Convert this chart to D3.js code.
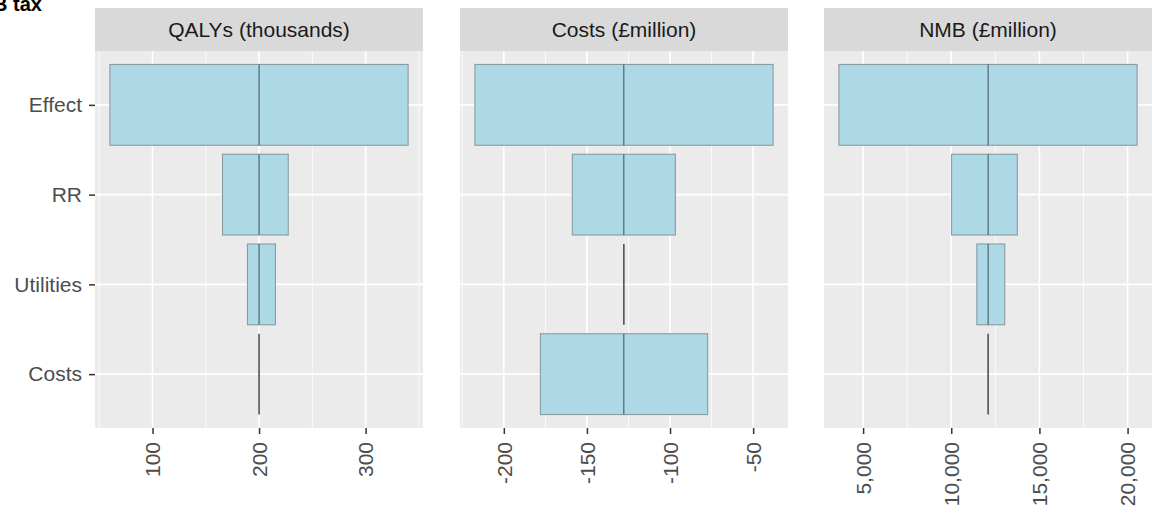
<!DOCTYPE html>
<html>
<head>
<meta charset="utf-8">
<script src="https://cdn.jsdelivr.net/npm/d3@7"></script>
<style>
html,body{margin:0;padding:0;background:#fff;}
svg{display:block;font-family:"Liberation Sans",Arial,Helvetica,sans-serif;}
</style>
</head>
<body>
<svg id="chart" width="1152" height="513"></svg>
<script>
// ---- data ----
const categories = ["Effect", "RR", "Utilities", "Costs"];
const panelTitles = ["QALYs (thousands)", "Costs (£million)", "NMB (£million)"];
const baseValues = [200, -127.8, 12090];
const qalyLow  = [60.0, 165.7, 189.1, 200];
const qalyHigh = [339.9, 227.4, 215.4, 200];
const costLow  = [-217.4, -158.8, -127.8, -178.0];
const costHigh = [-38.0, -96.8, -127.8, -77.4];
const nmbLow   = [3627, 10017, 11452, 12090];
const nmbHigh  = [20540, 13746, 13034, 12090];
const qalyTicks = [100, 200, 300];
const costTicks = [-200, -150, -100, -50];
const nmbTicks  = [5000, 10000, 15000, 20000];
const qalyTickLabels = ["100", "200", "300"];
const costTickLabels = ["-200", "-150", "-100", "-50"];
const nmbTickLabels  = ["5,000", "10,000", "15,000", "20,000"];
const titleText = "B tax";

const panels = [
  {title: panelTitles[0], base: baseValues[0], low: qalyLow, high: qalyHigh, ticks: qalyTicks, labels: qalyTickLabels},
  {title: panelTitles[1], base: baseValues[1], low: costLow, high: costHigh, ticks: costTicks, labels: costTickLabels},
  {title: panelTitles[2], base: baseValues[2], low: nmbLow, high: nmbHigh, ticks: nmbTicks, labels: nmbTickLabels}
];

// ---- layout ----
const svg = d3.select("#chart");
const panelLefts = [95, 460, 824];
const panelW = 328;
const stripTop = 8, stripBottom = 51, plotBottom = 428;
const fontSize = 21;

svg.append("text")
  .attr("x", -7).attr("y", 11)
  .attr("font-size", 20).attr("font-weight", "bold")
  .attr("fill", "#000")
  .text(titleText);

// y scale (discrete, ggplot expansion 0.6)
const yCont = d3.scaleLinear().domain([0.4, 4.6]).range([stripBottom, plotBottom]);
const yPos = c => yCont(categories.indexOf(c) + 1);
const halfBand = 0.45;

panels.forEach((p, pi) => {
  const x0 = panelLefts[pi];
  const g = svg.append("g");
  const allVals = p.low.concat(p.high, [p.base]);
  const mn = d3.min(allVals), mx = d3.max(allVals);
  const ex = (mx - mn) * 0.05;
  const x = d3.scaleLinear().domain([mn - ex, mx + ex]).range([x0, x0 + panelW]);

  // strip
  g.append("rect").attr("x", x0).attr("y", stripTop).attr("width", panelW).attr("height", stripBottom - stripTop).attr("fill", "#D9D9D9");
  g.append("text").attr("x", x0 + panelW / 2).attr("y", (stripTop + stripBottom) / 2)
    .attr("dy", "0.35em").attr("text-anchor", "middle").attr("font-size", fontSize).attr("fill", "#1A1A1A").text(p.title);

  // panel background
  g.append("rect").attr("x", x0).attr("y", stripBottom).attr("width", panelW).attr("height", plotBottom - stripBottom).attr("fill", "#EBEBEB");

  // minor grid
  const step = p.ticks[1] - p.ticks[0];
  const minors = [];
  for (let i = -1; i < p.ticks.length; i++) {
    const v = p.ticks[0] + step * i + step / 2;
    if (v >= x.domain()[0] && v <= x.domain()[1]) minors.push(v);
  }
  g.selectAll(".minor").data(minors).join("line")
    .attr("x1", d => x(d)).attr("x2", d => x(d)).attr("y1", stripBottom).attr("y2", plotBottom)
    .attr("stroke", "#fff").attr("stroke-width", 0.8);
  // major grid
  g.selectAll(".majx").data(p.ticks).join("line")
    .attr("x1", d => x(d)).attr("x2", d => x(d)).attr("y1", stripBottom).attr("y2", plotBottom)
    .attr("stroke", "#fff").attr("stroke-width", 1.6);
  g.selectAll(".majy").data(categories).join("line")
    .attr("x1", x0).attr("x2", x0 + panelW).attr("y1", d => yPos(d)).attr("y2", d => yPos(d))
    .attr("stroke", "#fff").attr("stroke-width", 1.6);

  // bars
  const rows = categories.map((c, i) => ({c, lo: Math.min(p.low[i], p.high[i]), hi: Math.max(p.low[i], p.high[i])}));
  g.selectAll(".bar").data(rows.filter(r => r.hi > r.lo)).join("rect")
    .attr("x", d => x(d.lo)).attr("width", d => x(d.hi) - x(d.lo))
    .attr("y", d => yCont(categories.indexOf(d.c) + 1 - halfBand))
    .attr("height", d => yCont(categories.indexOf(d.c) + 1 + halfBand) - yCont(categories.indexOf(d.c) + 1 - halfBand))
    .attr("fill", "#ADD8E6").attr("stroke", "#8A9CA2").attr("stroke-width", 1.1);
  // base lines
  g.selectAll(".base").data(rows).join("line")
    .attr("x1", x(p.base)).attr("x2", x(p.base))
    .attr("y1", d => yCont(categories.indexOf(d.c) + 1 - halfBand))
    .attr("y2", d => yCont(categories.indexOf(d.c) + 1 + halfBand))
    .attr("stroke", d => d.hi > d.lo ? "#3E4F54" : "#4A5558").attr("stroke-width", d => d.hi > d.lo ? 1 : 1.6);

  // x axis
  const ax = g.append("g").attr("transform", `translate(0,${plotBottom})`)
    .call(d3.axisBottom(x).tickValues(p.ticks).tickFormat((d, i) => p.labels[i]).tickSize(6).tickPadding(6));
  ax.select(".domain").remove();
  ax.selectAll(".tick line").attr("stroke", "#333").attr("stroke-width", 1.5);
  ax.selectAll(".tick text")
    .attr("font-size", fontSize).attr("fill", "#4D4D4D").attr("font-family", "'Liberation Sans', Arial, sans-serif")
    .attr("transform", "rotate(-90)").attr("text-anchor", "end")
    .attr("x", -14).attr("y", 0).attr("dy", "0.35em");

  // y axis only on first panel
  if (pi === 0) {
    const yBand = d3.scaleOrdinal().domain(categories).range(categories.map(c => yPos(c)));
    const ay = g.append("g").attr("transform", `translate(${x0},0)`)
      .call(d3.axisLeft(yBand).tickSize(6).tickPadding(7));
    ay.select(".domain").remove();
    ay.selectAll(".tick line").attr("stroke", "#333").attr("stroke-width", 1.5);
    ay.selectAll(".tick text").attr("font-size", fontSize).attr("fill", "#4D4D4D")
      .attr("font-family", "'Liberation Sans', Arial, sans-serif");
  }
});
</script>
</body>
</html>
